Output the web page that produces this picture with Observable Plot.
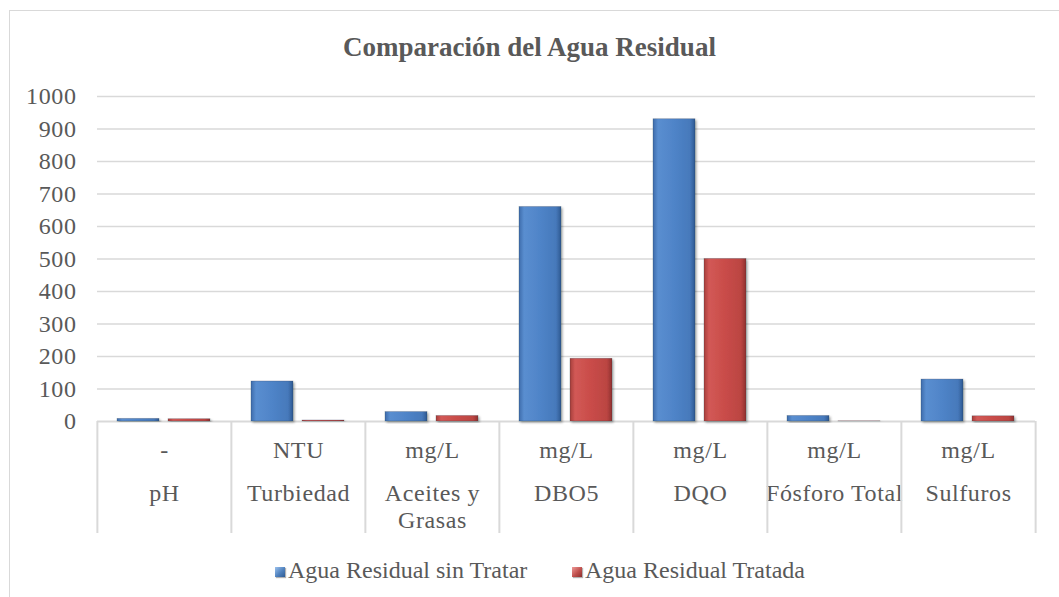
<!DOCTYPE html>
<html>
<head>
<meta charset="utf-8">
<script src="https://cdn.jsdelivr.net/npm/d3@7"></script>
<script src="https://cdn.jsdelivr.net/npm/@observablehq/plot@0.6"></script>
<style>
  body { margin: 0; background: #fff; font-family: 'Liberation Serif', serif; }
  #wrap { position: relative; width: 1059px; height: 597px; overflow: hidden; background: #fff; }
  #border { position: absolute; left: 9px; top: 10px; width: 1200px; height: 800px; border: 1.5px solid #d9d9d9; box-sizing: border-box; }
  #title { position: absolute; top: 31px; left: 0; width: 1059px; text-align: center; font-family: 'Liberation Serif', serif; font-weight: bold; font-size: 27px; line-height: 32px; color: #595959; }
  #chart { position: absolute; top: 76px; left: 0; }
  .leg { position: absolute; top: 556px; font-family: 'Liberation Serif', serif; font-size: 24px; line-height: 28px; color: #595959; white-space: nowrap; }
  .sw { display: inline-block; width: 10px; height: 10px; margin-right: 3px; vertical-align: 1px; box-shadow: 1px 1px 1px rgba(0,0,0,0.3); }
</style>
</head>
<body>
<div id="wrap">
  <div id="border"></div>
  <div id="title">Comparación del Agua Residual</div>
  <div id="chart"></div>
  <div id="legend"></div>
</div>
<script>
// ---- data ----
const categories = ["pH", "Turbiedad", "Aceites y Grasas", "DBO5", "DQO", "Fósforo Total", "Sulfuros"];
const categoryLabels = ["pH", "Turbiedad", "Aceites y\nGrasas", "DBO5", "DQO", "Fósforo Total", "Sulfuros"];
const units = ["-", "NTU", "mg/L", "mg/L", "mg/L", "mg/L", "mg/L"];
const seriesNames = ["Agua Residual sin Tratar", "Agua Residual Tratada"];
const sinTratar = [8, 123, 29, 660, 930, 17, 129];
const tratada = [7, 3, 17, 193, 500, 0.5, 16];
const yTicks = [0, 100, 200, 300, 400, 500, 600, 700, 800, 900, 1000];
const seriesFills = ["url(#gradBlue)", "url(#gradRed)"];
const legendSwatches = ["linear-gradient(135deg,#9cc2ee,#4f81bd 55%,#2f5b94)", "linear-gradient(135deg,#ee9a98,#c0504d 55%,#8a2f2d)"];

const data = categories.flatMap((c, i) => [
  {cat: c, serie: seriesNames[0], value: sinTratar[i]},
  {cat: c, serie: seriesNames[1], value: tratada[i]}
]);

const W = 1059, H = 469, mL = 96, mR = 23, mT = 20, mB = 124;
const bw = (W - mL - mR) / categories.length;
const gridColor = "#d9d9d9";

const chart = Plot.plot({
  width: W, height: H,
  marginTop: mT, marginBottom: mB, marginLeft: mL, marginRight: mR,
  style: {fontFamily: "'Liberation Serif', serif", fontSize: "24px", letterSpacing: "0.6px", color: "#595959", background: "transparent", overflow: "visible"},
  fx: {domain: categories, padding: 0, label: null},
  x: {domain: seriesNames, paddingInner: 0.17, paddingOuter: 0.38, axis: null},
  y: {domain: [0, 1000]},
  color: {domain: seriesNames, range: seriesFills},
  marks: [
    Plot.ruleY(yTicks.slice(1), {stroke: gridColor, strokeWidth: 1.6}),
    Plot.ruleY([0], {stroke: gridColor, strokeWidth: 2}),
    Plot.barY(data, {fx: "cat", x: "serie", y: "value", fill: "serie", stroke: "rgba(30,40,60,0.35)", strokeWidth: 0.6}),
    Plot.axisY({ticks: yTicks, tickSize: 0, tickPadding: 21, label: null, fontSize: 24, tickFormat: d => String(d)}),
    Plot.axisFx({anchor: "bottom", tickSize: 0, tickPadding: 19, label: null, fontSize: 24,
      tickFormat: d => units[categories.indexOf(d)]}),
    Plot.axisFx({anchor: "bottom", tickSize: 0, tickPadding: 60, label: null, fontSize: 24, lineHeight: 1.125,
      tickFormat: d => categoryLabels[categories.indexOf(d)]}),
    Plot.axisFx({anchor: "bottom", tickSize: 112, tickFormat: () => "", label: null, dx: -bw / 2, stroke: gridColor, strokeWidth: 2}),
    Plot.axisFx({anchor: "bottom", ticks: [categories[categories.length - 1]], tickSize: 112, tickFormat: () => "", label: null, dx: bw / 2, stroke: gridColor, strokeWidth: 2})
  ]
});

// gradients & shadow
const svg = d3.select(chart);
const defs = svg.insert("defs", ":first-child");
function grad(id, stops) {
  const g = defs.append("linearGradient").attr("id", id).attr("x1", "0").attr("x2", "1").attr("y1", "0").attr("y2", "0");
  stops.forEach(([o, c]) => g.append("stop").attr("offset", o).attr("stop-color", c));
}
grad("gradBlue", [["0", "#3d6cab"], ["0.12", "#5a8ed0"], ["0.5", "#4f84c8"], ["0.88", "#4679bb"], ["1", "#2f5a92"]]);
grad("gradRed", [["0", "#a63e3b"], ["0.12", "#d25956"], ["0.5", "#c94c49"], ["0.88", "#bb4542"], ["1", "#8f302e"]]);
const f = defs.append("filter").attr("id", "shadow").attr("x", "-20%").attr("y", "-20%").attr("width", "150%").attr("height", "150%");
f.append("feDropShadow").attr("dx", 1.5).attr("dy", 1.5).attr("stdDeviation", 1.2).attr("flood-color", "#000").attr("flood-opacity", 0.35);
svg.selectAll("g[aria-label=bar] rect").style("filter", "url(#shadow)");

document.getElementById("chart").appendChild(chart);

// legend
const legend = document.getElementById("legend");
const legendLeft = [275, 572];
seriesNames.forEach((name, i) => {
  const item = document.createElement("div");
  item.className = "leg";
  item.style.left = legendLeft[i] + "px";
  const sw = document.createElement("span");
  sw.className = "sw";
  sw.style.background = legendSwatches[i];
  item.appendChild(sw);
  item.appendChild(document.createTextNode(name));
  legend.appendChild(item);
});
</script>
</body>
</html>
